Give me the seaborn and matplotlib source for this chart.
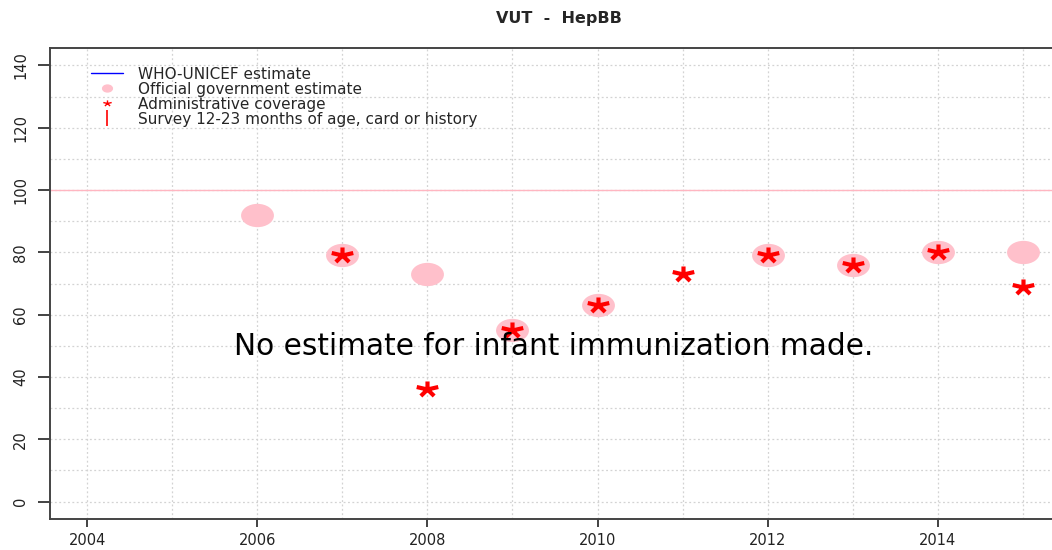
import matplotlib
matplotlib.use('Agg')
import numpy as np
import matplotlib.pyplot as plt
from matplotlib.lines import Line2D
from matplotlib.path import Path
from matplotlib.transforms import Affine2D
import pandas as pd
import seaborn as sns

# values
years = [2006, 2007, 2008, 2009, 2010, 2012, 2013, 2014, 2015]
official = [92, 79, 73, 55, 63, 79, 76, 80, 80]
admin_years = [2007, 2008, 2009, 2010, 2011, 2012, 2013, 2014, 2015]
admin = [79, 36, 55, 63, 73, 79, 76, 80, 69]
x_ticks = [2004, 2006, 2008, 2010, 2012, 2014]
y_ticks = [0, 20, 40, 60, 80, 100, 120, 140]

sns.set_style('white')
plt.rcParams['font.family'] = ['DejaVu Sans']

off_df = pd.DataFrame({'year': years, 'coverage': official})
adm_df = pd.DataFrame({'year': admin_years, 'coverage': admin})

# the reference is stretched sideways, so the markers are too
stretch = 1.41
ellipse = Path.unit_circle().transformed(Affine2D().scale(stretch, 1.0))

verts, codes = [], []
for a in np.deg2rad([90, 18, -54, -126, 162]):
    verts += [(0, 0), (np.cos(a) * stretch, np.sin(a))]
    codes += [Path.MOVETO, Path.LINETO]
star = Path(verts, codes)

fig = plt.figure(figsize=(10.52, 5.5), dpi=100)
ax = fig.add_axes([50 / 1052, 1 - 519 / 550, 1010 / 1052, 471 / 550])

# grid
for yr in range(2004, 2016):
    ax.axvline(yr, color='#d3d3d3', lw=0.9, ls=(0, (1.5, 2)), zorder=0)
for v in range(0, 150, 10):
    ax.axhline(v, color='#d3d3d3', lw=0.9, ls=(0, (1.5, 2)), zorder=0)
ax.axhline(100, color='#ffb6c1', lw=1, zorder=1)

sns.scatterplot(data=off_df, x='year', y='coverage', ax=ax, color='pink',
                marker=ellipse, s=560, linewidth=0, zorder=2, legend=False)
sns.scatterplot(data=adm_df, x='year', y='coverage', ax=ax, color='red',
                marker=star, s=240, linewidth=3.0, edgecolor='red',
                zorder=3, legend=False)

ax.text(2009.48, 47.1, 'No estimate for infant immunization made.',
        ha='center', va='baseline', fontsize=21.3, color='black')

ax.set_xlim(2003.56, 2015.44)
ax.set_ylim(-5.6, 145.6)
ax.set_xticks(x_ticks)
ax.set_yticks(y_ticks)
ax.set_yticklabels([str(v) for v in y_ticks], rotation=90, va='center')
ax.tick_params(axis='x', bottom=True, direction='out', length=5.5, width=1.2,
               pad=4.5, labelsize=10.5, colors='#222222')
ax.tick_params(axis='y', left=True, direction='out', length=8.6, width=1.2,
               pad=7, labelsize=10.5, colors='#222222')
ax.set_xlabel('')
ax.set_ylabel('')
for s in ['left', 'bottom', 'top', 'right']:
    ax.spines[s].set_color('#444444')
    ax.spines[s].set_linewidth(1.4)

handles = [
    Line2D([], [], color='blue', lw=1),
    Line2D([], [], ls='none', marker=ellipse, color='pink', markersize=7),
    Line2D([], [], ls='none', marker=star, color='red', markersize=6, mew=1),
    Line2D([], [], ls='none', marker='|', color='red', markersize=11, mew=1.2),
]
labels = ['WHO-UNICEF estimate', 'Official government estimate',
          'Administrative coverage', 'Survey 12-23 months of age, card or history']
ax.legend(handles, labels, loc='upper left', bbox_to_anchor=(0.041, 0.96),
          frameon=False, fontsize=11, handlelength=2.05, handletextpad=1.0,
          labelspacing=0.0, borderaxespad=0, borderpad=0)

fig.suptitle('VUT  -  HepBB', x=559 / 1052, y=1 - 18 / 550, va='center',
             fontsize=11.5, fontweight='bold')

fig.savefig('out.png', dpi=100)
